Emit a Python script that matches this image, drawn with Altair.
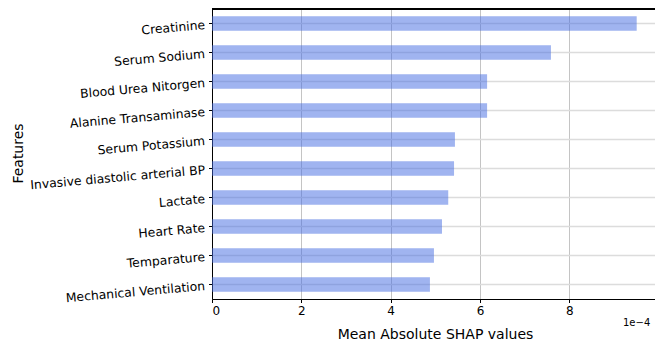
import altair as alt
import pandas as pd

features = [
    "Creatinine",
    "Serum Sodium",
    "Blood Urea Nitorgen",
    "Alanine Transaminase",
    "Serum Potassium",
    "Invasive diastolic arterial BP",
    "Lactate",
    "Heart Rate",
    "Temparature",
    "Mechanical Ventilation",
]
shap_values = [9.51e-4, 7.59e-4, 6.16e-4, 6.16e-4, 5.44e-4, 5.42e-4, 5.29e-4, 5.15e-4, 4.97e-4, 4.88e-4]
x_ticks = [0, 2e-4, 4e-4, 6e-4, 8e-4]

df = pd.DataFrame({"feature": features, "value": shap_values})

W, H = 443, 290
FONT = "DejaVu Sans"

bars = alt.Chart(df).mark_bar(color="royalblue", opacity=0.5).encode(
    y=alt.Y(
        "feature:N",
        sort=features,
        scale=alt.Scale(paddingInner=0.5, paddingOuter=0.25),
        axis=alt.Axis(
            title="Features",
            titleFont=FONT,
            titleFontSize=14,
            titleFontWeight="normal",
            titleColor="black",
            titleX=-194,
            titleY=144,
            titleAlign="center",
            titleBaseline="middle",
            titleAngle=270,
            labelFont=FONT,
            labelFontSize=12.4,
            labelColor="black",
            labelAngle=355,
            labelAlign="right",
            labelBaseline="middle",
            labelPadding=4,
            labelOffset=1.5,
            tickSize=3.5,
            tickColor="black",
            domainColor="black",
            grid=True,
            gridColor="#dcdcdc",
            gridWidth=1.5,
        ),
    ),
    x=alt.X(
        "value:Q",
        scale=alt.Scale(domain=[0, 9.92e-4], nice=False, zero=True),
        axis=alt.Axis(
            title="Mean Absolute SHAP values",
            titleFont=FONT,
            titleFontSize=14,
            titleFontWeight="normal",
            titleColor="black",
            titleX=223,
            titleY=35,
            titleAlign="center",
            titleBaseline="middle",
            values=x_ticks,
            labelExpr="format(datum.value * 10000, 'd')",
            labelFont=FONT,
            labelFontSize=12,
            labelColor="black",
            labelPadding=3,
            tickSize=3.5,
            tickColor="black",
            domainColor="black",
            grid=True,
            gridColor="#c4c4c4",
            gridWidth=1,
        ),
    ),
)

top_border = alt.Chart(df).mark_rule(color="black", strokeWidth=1).encode(
    x=alt.value(0), x2=alt.value(W), y=alt.value(0)
)

offset_text = alt.Chart(pd.DataFrame({"t": ["1e\u22124"]})).mark_text(
    align="left", baseline="middle", font=FONT, fontSize=10, color="black"
).encode(text="t:N", x=alt.value(411), y=alt.value(314))

chart = (
    alt.layer(bars, top_border, offset_text)
    .properties(
        width=W,
        height=H,
        autosize=alt.AutoSizeParams(type="none"),
        padding={"left": 212, "top": 9, "right": 0, "bottom": 43},
    )
    .configure_view(stroke=None)
    .configure(background="white")
)

chart.save("out.html", embed_options={"renderer": "svg", "actions": False})
